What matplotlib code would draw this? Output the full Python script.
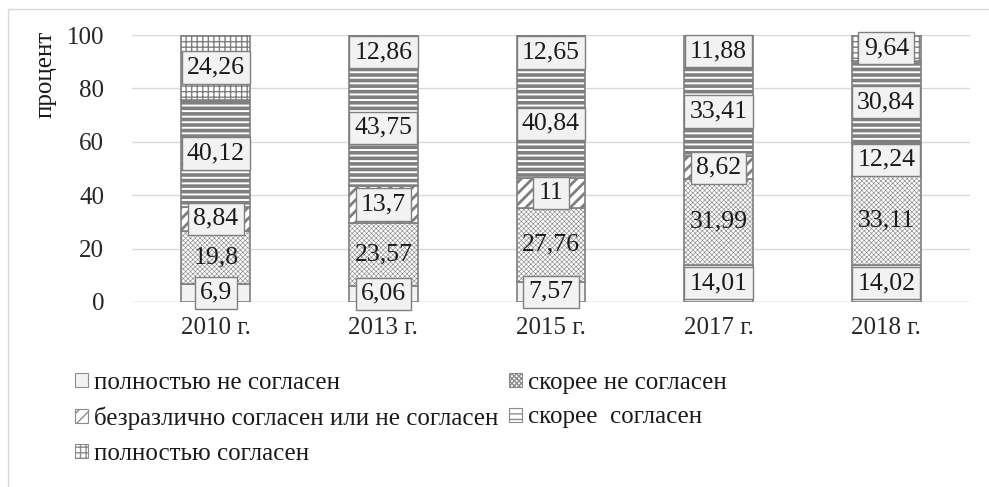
import matplotlib
matplotlib.use('Agg')
import matplotlib.pyplot as plt
import numpy as np
from matplotlib.patches import Rectangle, Patch

plt.rcParams['font.family'] = ['Liberation Serif', 'DejaVu Serif']
plt.rcParams['hatch.color'] = '#7f7f7f'

# данные
years = ['2010 г.', '2013 г.', '2015 г.', '2017 г.', '2018 г.']
series_names = ['полностью не согласен', 'скорее не согласен',
                'безразлично согласен или не согласен', 'скорее  согласен',
                'полностью согласен']
full_disagree = [6.9, 6.06, 7.57, 14.01, 14.02]
rather_disagree = [19.8, 23.57, 27.76, 31.99, 33.11]
indifferent = [8.84, 13.7, 11, 8.62, 12.24]
rather_agree = [40.12, 43.75, 40.84, 33.41, 30.84]
full_agree = [24.26, 12.86, 12.65, 11.88, 9.64]
values = [full_disagree, rather_disagree, indifferent, rather_agree, full_agree]

# стили
faces = ['#f2f2f2', 'white', 'white', 'white', 'white']
hatches = [None, 'xxxxxxx', '///', '---', '+++']
hatch_lw = [1, 0.4, 2.0, 2.6, 1.0]
boxed = [True, False, True, True, True]

fig = plt.figure(figsize=(9.89, 4.87), dpi=100)
ax = fig.add_axes([132/989, 1-302/487, (970-132)/989, (302-35)/487])

x = np.arange(len(years))
bottom = np.zeros(len(years))
bar_width = 0.41
handles = []
for i, vals in enumerate(values):
    with plt.rc_context({'hatch.linewidth': hatch_lw[i]}):
        bars = ax.bar(x, vals, bar_width, bottom=bottom, color=faces[i],
                      edgecolor='#7f7f7f', linewidth=1.2, hatch=hatches[i],
                      zorder=2)
    with plt.rc_context({'hatch.linewidth': min(hatch_lw[i], 1.0)}):
        handles.append(Patch(facecolor=faces[i], edgecolor='#8c8c8c',
                             hatch=hatches[i], linewidth=0.8))
    for xi, v, b0 in zip(x, vals, bottom):
        s = ('%g' % v).replace('.', ',')
        kw = {}
        if boxed[i]:
            kw['bbox'] = dict(boxstyle='square,pad=0.2', facecolor='#f2f2f2',
                              edgecolor='#7f7f7f', linewidth=1)
        ax.text(xi, b0 + v / 2, s, ha='center', va='center', fontsize=18.5,
                color='#1a1a1a', zorder=3, **kw)
    bottom += np.array(vals)

ax.set_xlim(-0.5, len(years) - 0.5)
ax.set_ylim(0, 100)
ax.set_yticks([0, 20, 40, 60, 80, 100])
ax.set_xticks(x)
ax.set_xticklabels(years)
ax.tick_params(length=0, labelsize=18, colors='#262626')
ax.tick_params(axis='y', pad=20)
ax.tick_params(axis='x', pad=11)
ax.grid(axis='y', color='#d9d9d9', linewidth=1, zorder=0)
ax.set_axisbelow(True)
for sp in ax.spines.values():
    sp.set_visible(False)
ax.axhline(0, color='#d9d9d9', linewidth=1, zorder=1)

fig.text(46/989, 1-74/487, 'процент', rotation=90, ha='center', va='center',
         fontsize=18, color='#1a1a1a')

# легенда: две колонки
leg_kw = dict(loc='upper left', frameon=False, fontsize=18,
              handlelength=0.5, handleheight=0.5, handletextpad=0.25,
              labelspacing=0.5, borderaxespad=0, borderpad=0)
leg1 = fig.legend([handles[k] for k in [0, 2, 4]],
                  [series_names[k] for k in [0, 2, 4]],
                  bbox_to_anchor=(75/989, 1-372/487), **leg_kw)
leg2 = fig.legend([handles[k] for k in [1, 3]],
                  [series_names[k] for k in [1, 3]],
                  bbox_to_anchor=(509/989, 1-372/487), **leg_kw)
for leg in (leg1, leg2):
    for t in leg.get_texts():
        t.set_color('#1a1a1a')

fig.patches.append(Rectangle((8/989, -0.05), 1.1, 1 - 9/487 + 0.05,
                             transform=fig.transFigure, fill=False,
                             edgecolor='#d9d9d9', linewidth=1))

fig.savefig('out.png', dpi=100)
